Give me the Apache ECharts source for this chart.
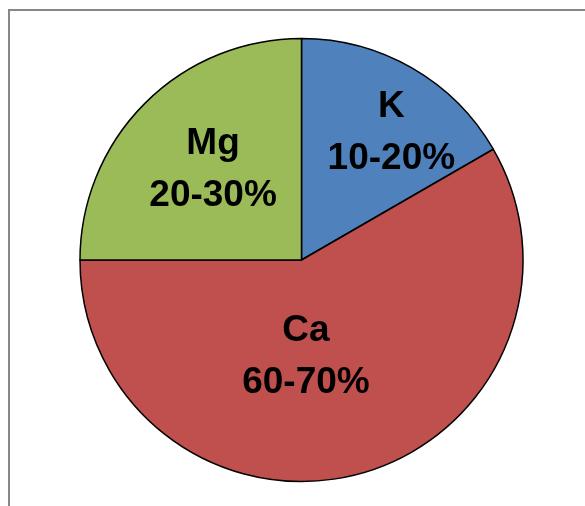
<!DOCTYPE html>
<html>
<head>
<meta charset="utf-8">
<script src="https://cdn.jsdelivr.net/npm/echarts@6/dist/echarts.min.js"></script>
<style>html,body{margin:0;padding:0;background:#fff}#c{width:585px;height:506px}</style>
</head>
<body>
<div id="c"></div>
<script>
var categories = ['K', 'Ca', 'Mg'];
var values = [2, 7, 3];
var rangeLabels = ['10-20%', '60-70%', '20-30%'];
var colors = ['#4F81BD', '#C0504D', '#9BBB59'];
var labelOffsets = [[33, -29], [-25, -13], [-8, -10]];

var chart = echarts.init(document.getElementById('c'), null, {renderer: 'canvas'});
var data = categories.map(function (c, i) {
  return {
    name: c,
    value: values[i],
    itemStyle: {color: colors[i]},
    label: {offset: labelOffsets[i]}
  };
});
chart.setOption({
  animation: false,
  backgroundColor: '#fff',
  graphic: [{
    type: 'rect',
    shape: {x: 9, y: 10, width: 700, height: 700},
    style: {fill: 'none', stroke: '#878787', lineWidth: 2},
    silent: true
  }],
  series: [{
    type: 'pie',
    center: [301.5, 260],
    radius: [0, 221.5],
    startAngle: 90,
    clockwise: true,
    avoidLabelOverlap: false,
    itemStyle: {borderColor: '#000', borderWidth: 1.5},
    label: {
      show: true,
      position: 'inside',
      color: '#000',
      fontFamily: 'Liberation Sans',
      fontWeight: 'bold',
      fontSize: 37,
      lineHeight: 52,
      formatter: function (p) { return p.name + '\n' + rangeLabels[p.dataIndex]; }
    },
    labelLine: {show: false},
    emphasis: {disabled: true},
    data: data
  }]
});
</script>
</body>
</html>
